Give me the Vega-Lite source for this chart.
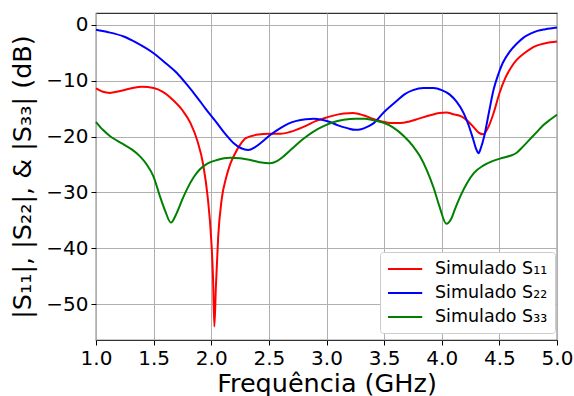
{
  "$schema": "https://vega.github.io/schema/vega-lite/v6.json",
  "width": 461,
  "height": 327,
  "autosize": {"type": "none"},
  "padding": {"left": 96, "top": 13, "right": 17, "bottom": 56},
  "background": "white",
  "config": {
    "font": "DejaVu Sans",
    "view": {"stroke": "#333333", "strokeWidth": 1.2},
    "axis": {
      "domain": false,
      "grid": true,
      "gridColor": "#b0b0b0",
      "gridWidth": 1,
      "tickColor": "#000000",
      "tickSize": 5,
      "tickWidth": 1,
      "labelColor": "#000000",
      "labelFontSize": 20,
      "labelPadding": 3,
      "labelFlush": false,
      "labelOverlap": false,
      "titleColor": "#000000",
      "titleFontSize": 25.5,
      "titleFontWeight": "normal"
    }
  },
  "data": {"values": [
    {"f": 1.00, "s": "Simulado S₁₁", "v": -11.4},
    {"f": 1.06, "s": "Simulado S₁₁", "v": -12.0},
    {"f": 1.12, "s": "Simulado S₁₁", "v": -12.2},
    {"f": 1.20, "s": "Simulado S₁₁", "v": -11.9},
    {"f": 1.30, "s": "Simulado S₁₁", "v": -11.4},
    {"f": 1.40, "s": "Simulado S₁₁", "v": -11.1},
    {"f": 1.50, "s": "Simulado S₁₁", "v": -11.3},
    {"f": 1.58, "s": "Simulado S₁₁", "v": -12.0},
    {"f": 1.67, "s": "Simulado S₁₁", "v": -13.5},
    {"f": 1.75, "s": "Simulado S₁₁", "v": -15.3},
    {"f": 1.82, "s": "Simulado S₁₁", "v": -17.6},
    {"f": 1.88, "s": "Simulado S₁₁", "v": -20.8},
    {"f": 1.93, "s": "Simulado S₁₁", "v": -25.0},
    {"f": 1.97, "s": "Simulado S₁₁", "v": -31.0},
    {"f": 2.00, "s": "Simulado S₁₁", "v": -38.5},
    {"f": 2.015, "s": "Simulado S₁₁", "v": -45.0},
    {"f": 2.027, "s": "Simulado S₁₁", "v": -54.0},
    {"f": 2.04, "s": "Simulado S₁₁", "v": -47.0},
    {"f": 2.06, "s": "Simulado S₁₁", "v": -38.0},
    {"f": 2.09, "s": "Simulado S₁₁", "v": -31.3},
    {"f": 2.13, "s": "Simulado S₁₁", "v": -27.3},
    {"f": 2.16, "s": "Simulado S₁₁", "v": -25.2},
    {"f": 2.20, "s": "Simulado S₁₁", "v": -23.3},
    {"f": 2.25, "s": "Simulado S₁₁", "v": -21.5},
    {"f": 2.30, "s": "Simulado S₁₁", "v": -20.3},
    {"f": 2.39, "s": "Simulado S₁₁", "v": -19.7},
    {"f": 2.51, "s": "Simulado S₁₁", "v": -19.5},
    {"f": 2.60, "s": "Simulado S₁₁", "v": -19.5},
    {"f": 2.68, "s": "Simulado S₁₁", "v": -19.2},
    {"f": 2.75, "s": "Simulado S₁₁", "v": -18.7},
    {"f": 2.83, "s": "Simulado S₁₁", "v": -18.0},
    {"f": 2.90, "s": "Simulado S₁₁", "v": -17.3},
    {"f": 2.97, "s": "Simulado S₁₁", "v": -16.8},
    {"f": 3.05, "s": "Simulado S₁₁", "v": -16.3},
    {"f": 3.15, "s": "Simulado S₁₁", "v": -15.9},
    {"f": 3.23, "s": "Simulado S₁₁", "v": -15.8},
    {"f": 3.32, "s": "Simulado S₁₁", "v": -16.2},
    {"f": 3.40, "s": "Simulado S₁₁", "v": -16.8},
    {"f": 3.48, "s": "Simulado S₁₁", "v": -17.3},
    {"f": 3.56, "s": "Simulado S₁₁", "v": -17.6},
    {"f": 3.64, "s": "Simulado S₁₁", "v": -17.6},
    {"f": 3.72, "s": "Simulado S₁₁", "v": -17.3},
    {"f": 3.80, "s": "Simulado S₁₁", "v": -16.8},
    {"f": 3.90, "s": "Simulado S₁₁", "v": -16.2},
    {"f": 3.98, "s": "Simulado S₁₁", "v": -15.8},
    {"f": 4.04, "s": "Simulado S₁₁", "v": -15.7},
    {"f": 4.10, "s": "Simulado S₁₁", "v": -16.0},
    {"f": 4.17, "s": "Simulado S₁₁", "v": -16.4},
    {"f": 4.23, "s": "Simulado S₁₁", "v": -17.3},
    {"f": 4.28, "s": "Simulado S₁₁", "v": -18.4},
    {"f": 4.32, "s": "Simulado S₁₁", "v": -19.3},
    {"f": 4.36, "s": "Simulado S₁₁", "v": -19.6},
    {"f": 4.40, "s": "Simulado S₁₁", "v": -18.5},
    {"f": 4.45, "s": "Simulado S₁₁", "v": -15.8},
    {"f": 4.50, "s": "Simulado S₁₁", "v": -12.3},
    {"f": 4.55, "s": "Simulado S₁₁", "v": -9.6},
    {"f": 4.60, "s": "Simulado S₁₁", "v": -7.7},
    {"f": 4.65, "s": "Simulado S₁₁", "v": -6.3},
    {"f": 4.71, "s": "Simulado S₁₁", "v": -5.2},
    {"f": 4.77, "s": "Simulado S₁₁", "v": -4.3},
    {"f": 4.83, "s": "Simulado S₁₁", "v": -3.7},
    {"f": 4.90, "s": "Simulado S₁₁", "v": -3.3},
    {"f": 5.00, "s": "Simulado S₁₁", "v": -3.0},

    {"f": 1.00, "s": "Simulado S₂₂", "v": -0.9},
    {"f": 1.10, "s": "Simulado S₂₂", "v": -1.3},
    {"f": 1.24, "s": "Simulado S₂₂", "v": -2.1},
    {"f": 1.35, "s": "Simulado S₂₂", "v": -3.2},
    {"f": 1.50, "s": "Simulado S₂₂", "v": -5.1},
    {"f": 1.60, "s": "Simulado S₂₂", "v": -6.8},
    {"f": 1.70, "s": "Simulado S₂₂", "v": -8.6},
    {"f": 1.80, "s": "Simulado S₂₂", "v": -11.0},
    {"f": 1.87, "s": "Simulado S₂₂", "v": -12.8},
    {"f": 1.95, "s": "Simulado S₂₂", "v": -15.0},
    {"f": 2.05, "s": "Simulado S₂₂", "v": -17.6},
    {"f": 2.12, "s": "Simulado S₂₂", "v": -19.5},
    {"f": 2.19, "s": "Simulado S₂₂", "v": -21.1},
    {"f": 2.26, "s": "Simulado S₂₂", "v": -22.1},
    {"f": 2.32, "s": "Simulado S₂₂", "v": -22.4},
    {"f": 2.38, "s": "Simulado S₂₂", "v": -21.9},
    {"f": 2.45, "s": "Simulado S₂₂", "v": -20.8},
    {"f": 2.52, "s": "Simulado S₂₂", "v": -19.6},
    {"f": 2.60, "s": "Simulado S₂₂", "v": -18.5},
    {"f": 2.67, "s": "Simulado S₂₂", "v": -17.7},
    {"f": 2.74, "s": "Simulado S₂₂", "v": -17.2},
    {"f": 2.82, "s": "Simulado S₂₂", "v": -16.9},
    {"f": 2.89, "s": "Simulado S₂₂", "v": -16.8},
    {"f": 2.96, "s": "Simulado S₂₂", "v": -17.0},
    {"f": 3.03, "s": "Simulado S₂₂", "v": -17.4},
    {"f": 3.10, "s": "Simulado S₂₂", "v": -18.0},
    {"f": 3.18, "s": "Simulado S₂₂", "v": -18.5},
    {"f": 3.25, "s": "Simulado S₂₂", "v": -18.8},
    {"f": 3.30, "s": "Simulado S₂₂", "v": -18.7},
    {"f": 3.36, "s": "Simulado S₂₂", "v": -18.2},
    {"f": 3.41, "s": "Simulado S₂₂", "v": -17.6},
    {"f": 3.50, "s": "Simulado S₂₂", "v": -15.6},
    {"f": 3.61, "s": "Simulado S₂₂", "v": -13.6},
    {"f": 3.68, "s": "Simulado S₂₂", "v": -12.4},
    {"f": 3.75, "s": "Simulado S₂₂", "v": -11.7},
    {"f": 3.84, "s": "Simulado S₂₂", "v": -11.3},
    {"f": 3.93, "s": "Simulado S₂₂", "v": -11.3},
    {"f": 4.00, "s": "Simulado S₂₂", "v": -11.7},
    {"f": 4.07, "s": "Simulado S₂₂", "v": -12.5},
    {"f": 4.13, "s": "Simulado S₂₂", "v": -13.8},
    {"f": 4.19, "s": "Simulado S₂₂", "v": -15.8},
    {"f": 4.23, "s": "Simulado S₂₂", "v": -17.8},
    {"f": 4.27, "s": "Simulado S₂₂", "v": -20.3},
    {"f": 4.30, "s": "Simulado S₂₂", "v": -22.3},
    {"f": 4.32, "s": "Simulado S₂₂", "v": -23.0},
    {"f": 4.34, "s": "Simulado S₂₂", "v": -22.0},
    {"f": 4.37, "s": "Simulado S₂₂", "v": -19.8},
    {"f": 4.41, "s": "Simulado S₂₂", "v": -15.6},
    {"f": 4.45, "s": "Simulado S₂₂", "v": -11.6},
    {"f": 4.49, "s": "Simulado S₂₂", "v": -8.9},
    {"f": 4.53, "s": "Simulado S₂₂", "v": -6.8},
    {"f": 4.59, "s": "Simulado S₂₂", "v": -4.8},
    {"f": 4.65, "s": "Simulado S₂₂", "v": -3.4},
    {"f": 4.71, "s": "Simulado S₂₂", "v": -2.3},
    {"f": 4.77, "s": "Simulado S₂₂", "v": -1.6},
    {"f": 4.83, "s": "Simulado S₂₂", "v": -1.1},
    {"f": 4.90, "s": "Simulado S₂₂", "v": -0.8},
    {"f": 5.00, "s": "Simulado S₂₂", "v": -0.5},

    {"f": 1.00, "s": "Simulado S₃₃", "v": -17.4},
    {"f": 1.06, "s": "Simulado S₃₃", "v": -18.8},
    {"f": 1.12, "s": "Simulado S₃₃", "v": -19.9},
    {"f": 1.18, "s": "Simulado S₃₃", "v": -20.7},
    {"f": 1.24, "s": "Simulado S₃₃", "v": -21.4},
    {"f": 1.31, "s": "Simulado S₃₃", "v": -22.3},
    {"f": 1.38, "s": "Simulado S₃₃", "v": -23.5},
    {"f": 1.44, "s": "Simulado S₃₃", "v": -25.0},
    {"f": 1.50, "s": "Simulado S₃₃", "v": -27.2},
    {"f": 1.55, "s": "Simulado S₃₃", "v": -30.4},
    {"f": 1.60, "s": "Simulado S₃₃", "v": -33.3},
    {"f": 1.65, "s": "Simulado S₃₃", "v": -35.4},
    {"f": 1.70, "s": "Simulado S₃₃", "v": -33.7},
    {"f": 1.75, "s": "Simulado S₃₃", "v": -31.2},
    {"f": 1.79, "s": "Simulado S₃₃", "v": -29.4},
    {"f": 1.85, "s": "Simulado S₃₃", "v": -27.2},
    {"f": 1.90, "s": "Simulado S₃₃", "v": -25.9},
    {"f": 1.97, "s": "Simulado S₃₃", "v": -24.8},
    {"f": 2.05, "s": "Simulado S₃₃", "v": -24.2},
    {"f": 2.16, "s": "Simulado S₃₃", "v": -23.8},
    {"f": 2.25, "s": "Simulado S₃₃", "v": -23.9},
    {"f": 2.34, "s": "Simulado S₃₃", "v": -24.2},
    {"f": 2.42, "s": "Simulado S₃₃", "v": -24.6},
    {"f": 2.51, "s": "Simulado S₃₃", "v": -24.8},
    {"f": 2.57, "s": "Simulado S₃₃", "v": -24.4},
    {"f": 2.63, "s": "Simulado S₃₃", "v": -23.5},
    {"f": 2.70, "s": "Simulado S₃₃", "v": -22.2},
    {"f": 2.80, "s": "Simulado S₃₃", "v": -20.4},
    {"f": 2.88, "s": "Simulado S₃₃", "v": -19.2},
    {"f": 2.97, "s": "Simulado S₃₃", "v": -18.2},
    {"f": 3.05, "s": "Simulado S₃₃", "v": -17.5},
    {"f": 3.15, "s": "Simulado S₃₃", "v": -17.0},
    {"f": 3.25, "s": "Simulado S₃₃", "v": -16.8},
    {"f": 3.33, "s": "Simulado S₃₃", "v": -16.8},
    {"f": 3.41, "s": "Simulado S₃₃", "v": -17.1},
    {"f": 3.49, "s": "Simulado S₃₃", "v": -17.5},
    {"f": 3.58, "s": "Simulado S₃₃", "v": -18.4},
    {"f": 3.67, "s": "Simulado S₃₃", "v": -19.9},
    {"f": 3.75, "s": "Simulado S₃₃", "v": -21.7},
    {"f": 3.81, "s": "Simulado S₃₃", "v": -23.5},
    {"f": 3.87, "s": "Simulado S₃₃", "v": -26.0},
    {"f": 3.93, "s": "Simulado S₃₃", "v": -29.2},
    {"f": 3.98, "s": "Simulado S₃₃", "v": -32.5},
    {"f": 4.04, "s": "Simulado S₃₃", "v": -35.6},
    {"f": 4.08, "s": "Simulado S₃₃", "v": -34.8},
    {"f": 4.12, "s": "Simulado S₃₃", "v": -32.7},
    {"f": 4.17, "s": "Simulado S₃₃", "v": -30.3},
    {"f": 4.22, "s": "Simulado S₃₃", "v": -28.3},
    {"f": 4.28, "s": "Simulado S₃₃", "v": -26.5},
    {"f": 4.36, "s": "Simulado S₃₃", "v": -25.2},
    {"f": 4.44, "s": "Simulado S₃₃", "v": -24.4},
    {"f": 4.53, "s": "Simulado S₃₃", "v": -23.8},
    {"f": 4.60, "s": "Simulado S₃₃", "v": -23.4},
    {"f": 4.65, "s": "Simulado S₃₃", "v": -22.9},
    {"f": 4.70, "s": "Simulado S₃₃", "v": -21.9},
    {"f": 4.76, "s": "Simulado S₃₃", "v": -20.6},
    {"f": 4.82, "s": "Simulado S₃₃", "v": -19.3},
    {"f": 4.88, "s": "Simulado S₃₃", "v": -18.0},
    {"f": 4.94, "s": "Simulado S₃₃", "v": -17.0},
    {"f": 5.00, "s": "Simulado S₃₃", "v": -16.1}
  ]},
  "mark": {"type": "line", "interpolate": "monotone", "strokeWidth": 2},
  "encoding": {
    "x": {
      "field": "f",
      "type": "quantitative",
      "scale": {"domain": [1, 5], "nice": false, "zero": false},
      "axis": {
        "values": [1, 1.5, 2, 2.5, 3, 3.5, 4, 4.5, 5],
        "format": ".1f",
        "title": "Frequência (GHz)",
        "titlePadding": 3
      }
    },
    "y": {
      "field": "v",
      "type": "quantitative",
      "scale": {"domain": [-56.4, 2.1], "nice": false, "zero": false},
      "axis": {
        "values": [0, -10, -20, -30, -40, -50],
        "title": "|S₁₁|, |S₂₂|, & |S₃₃| (dB)",
        "titlePadding": 10
      }
    },
    "color": {
      "field": "s",
      "type": "nominal",
      "sort": ["Simulado S₁₁", "Simulado S₂₂", "Simulado S₃₃"],
      "scale": {
        "domain": ["Simulado S₁₁", "Simulado S₂₂", "Simulado S₃₃"],
        "range": ["#ff0000", "#0000ff", "#008000"]
      },
      "legend": {
        "title": null,
        "orient": "none",
        "legendX": 284,
        "legendY": 239,
        "fillColor": "white",
        "strokeColor": "#cccccc",
        "cornerRadius": 3,
        "padding": 7,
        "symbolType": "M-1,0H2.8",
        "symbolSize": 324,
        "symbolStrokeWidth": 2,
        "labelFontSize": 17.5,
        "labelColor": "#000000",
        "labelOffset": 28,
        "rowPadding": 5
      }
    }
  }
}
